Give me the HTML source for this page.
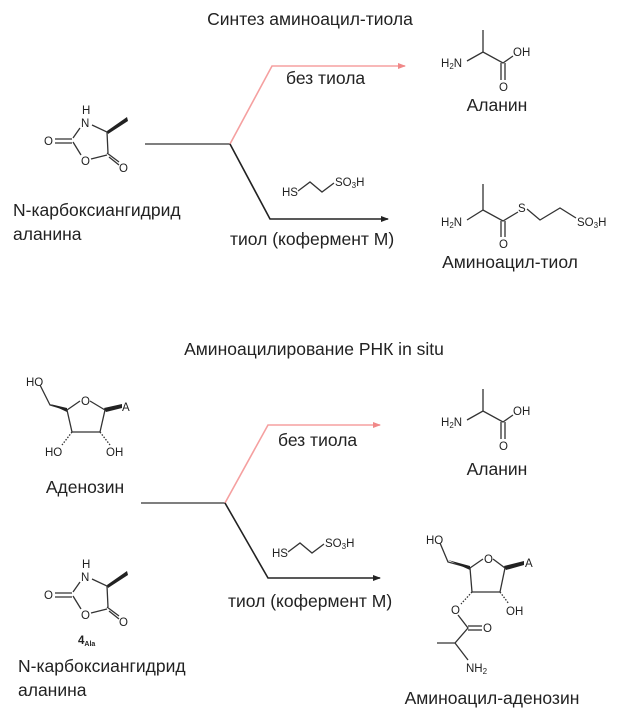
<!DOCTYPE html>
<html><head><meta charset="utf-8"><style>
html,body{margin:0;padding:0;background:#fff;}
svg{display:block;}
.a{font-family:"Liberation Sans",sans-serif;font-size:11.5px;fill:#222;}
.l{font-family:"Liberation Sans","DejaVu Sans",sans-serif;font-size:17.5px;fill:#222;}
.b{stroke:#333;stroke-width:1.3;fill:none;}
</style></head><body>
<svg width="620" height="722" viewBox="0 0 620 722" xmlns="http://www.w3.org/2000/svg">
<defs>
<g id="nca">
<text class="a" x="82" y="114">H</text>
<text class="a" x="81" y="127">N</text>
<polyline class="b" points="92,125 107,132 108,153"/>
<line class="b" x1="80" y1="128" x2="73" y2="138"/>
<line class="b" x1="73" y1="142" x2="81" y2="155"/>
<line class="b" x1="91" y1="159" x2="107" y2="155"/>
<text class="a" x="81" y="165">O</text>
<line class="b" x1="55" y1="139" x2="72" y2="139"/>
<line class="b" x1="55" y1="143" x2="72" y2="143"/>
<text class="a" x="44" y="145">O</text>
<line class="b" x1="107" y1="153" x2="119" y2="162"/>
<line class="b" x1="109" y1="157" x2="119" y2="165"/>
<text class="a" x="119" y="172">O</text>
<polygon points="107,131 127,117 128,121 108,134" fill="#222"/>
</g>
<g id="ala">
<text class="a" x="441" y="67">H<tspan font-size="8" dy="2">2</tspan><tspan dy="-2">N</tspan></text>
<polyline class="b" points="467,61 483,52 503,63 513,56"/>
<line class="b" x1="483" y1="52" x2="483" y2="30" stroke-width="2.5"/>
<text class="a" x="513" y="56">OH</text>
<line class="b" x1="501" y1="63" x2="501" y2="80"/>
<line class="b" x1="505" y1="63" x2="505" y2="80"/>
<text class="a" x="499" y="91">O</text>
</g>
<g id="thiol">
<text class="a" x="0" y="0">HS</text>
<polyline class="b" points="16,-5 28,-14 40,-4 52,-13"/>
<text class="a" x="53" y="-10">SO<tspan font-size="8" dy="2">3</tspan><tspan dy="-2">H</tspan></text>
</g>
<marker id="ar" markerWidth="8" markerHeight="8" refX="7" refY="3" orient="auto" markerUnits="userSpaceOnUse"><path d="M0,0 L8,3 L0,6z" fill="#222"/></marker>
<marker id="arp" markerWidth="8" markerHeight="8" refX="7" refY="3" orient="auto" markerUnits="userSpaceOnUse"><path d="M0,0 L8,3 L0,6z" fill="#f08888"/></marker>
</defs>

<text class="l" x="310" y="25" text-anchor="middle">Синтез аминоацил-тиола</text>
<use href="#nca"/>
<text class="l" x="13" y="216">N-карбоксиангидрид</text>
<text class="l" x="13" y="240">аланина</text>
<line class="b" x1="145" y1="144" x2="230" y2="144" stroke-width="1.6"/>
<polyline points="230,144 272,66 405,66" fill="none" stroke="#f5a0a0" stroke-width="1.6" marker-end="url(#arp)"/>
<polyline points="230,144 270,219 388,219" fill="none" stroke="#222" stroke-width="1.6" marker-end="url(#ar)"/>
<text class="l" x="286" y="84">без тиола</text>
<use href="#thiol" x="282" y="196"/>
<text class="l" x="230" y="245">тиол (кофермент М)</text>
<use href="#ala"/>
<text class="l" x="497" y="111" text-anchor="middle">Аланин</text>

<text class="a" x="441" y="226">H<tspan font-size="8" dy="2">2</tspan><tspan dy="-2">N</tspan></text>
<polyline class="b" points="467,220 483,210 503,221 518,212"/>
<line class="b" x1="483" y1="210" x2="483" y2="184" stroke-width="2.5"/>
<text class="a" x="518" y="212">S</text>
<polyline class="b" points="527,209 540,220 560,208 576,218"/>
<text class="a" x="577" y="226">SO<tspan font-size="8" dy="2">3</tspan><tspan dy="-2">H</tspan></text>
<line class="b" x1="501" y1="221" x2="501" y2="237"/>
<line class="b" x1="505" y1="221" x2="505" y2="237"/>
<text class="a" x="499" y="248">O</text>
<text class="l" x="510" y="268" text-anchor="middle">Аминоацил-тиол</text>

<text class="l" x="314" y="355" text-anchor="middle">Аминоацилирование РНК in situ</text>
<text class="a" x="26" y="386">HO</text>
<polyline class="b" points="40,385 50,405 67,410"/>
<polygon points="50,404 67,408 67,412" fill="#222"/>
<polyline class="b" points="67,410 80,401"/>
<text class="a" x="81" y="405">O</text>
<polyline class="b" points="90,401 105,410"/>
<polygon points="104,408 122,404 122,408 106,412" fill="#222"/>
<text class="a" x="122" y="411">A</text>
<polyline class="b" points="105,410 100,432 72,432 67,410"/>
<line class="b" x1="72" y1="432" x2="62" y2="445" stroke-dasharray="1.5,1.5"/>
<line class="b" x1="100" y1="432" x2="110" y2="445" stroke-dasharray="1.5,1.5"/>
<text class="a" x="45" y="456">HO</text>
<text class="a" x="106" y="456">OH</text>
<text class="l" x="85" y="493" text-anchor="middle">Аденозин</text>

<line class="b" x1="141" y1="503" x2="225" y2="503" stroke-width="1.6"/>
<polyline points="225,503 268,425 380,425" fill="none" stroke="#f5a0a0" stroke-width="1.6" marker-end="url(#arp)"/>
<polyline points="225,503 268,578 380,578" fill="none" stroke="#222" stroke-width="1.6" marker-end="url(#ar)"/>
<text class="l" x="278" y="446">без тиола</text>
<use href="#thiol" x="272" y="557"/>
<text class="l" x="228" y="607">тиол (кофермент М)</text>

<use href="#nca" y="454"/>
<text class="a" x="78" y="644" font-weight="bold">4<tspan font-size="7" dy="2">Ala</tspan></text>
<text class="l" x="18" y="672">N-карбоксиангидрид</text>
<text class="l" x="18" y="696">аланина</text>

<use href="#ala" y="359"/>
<text class="l" x="497" y="475" text-anchor="middle">Аланин</text>

<text class="a" x="426" y="544">HO</text>
<polyline class="b" points="440,543 448,562 470,568"/>
<polygon points="448,560 470,566 470,570" fill="#222"/>
<line class="b" x1="470" y1="568" x2="483" y2="559"/>
<text class="a" x="484" y="563">O</text>
<line class="b" x1="493" y1="559" x2="505" y2="568"/>
<polygon points="504,566 524,561 524,565 506,570" fill="#222"/>
<text class="a" x="525" y="567">A</text>
<polyline class="b" points="505,568 500,592 472,592 470,568"/>
<line class="b" x1="500" y1="592" x2="509" y2="604" stroke-dasharray="1.5,1.5"/>
<text class="a" x="506" y="615">OH</text>
<line class="b" x1="472" y1="592" x2="461" y2="604" stroke-dasharray="1.5,1.5"/>
<text class="a" x="451" y="614">O</text>
<polyline class="b" points="458,615 468,628 455,643 437,643"/>
<line class="b" x1="468" y1="626" x2="482" y2="626"/>
<line class="b" x1="468" y1="630" x2="482" y2="630"/>
<text class="a" x="483" y="632">O</text>
<line class="b" x1="455" y1="643" x2="468" y2="660"/>
<text class="a" x="466" y="672">NH<tspan font-size="8" dy="2">2</tspan></text>
<text class="l" x="492" y="704" text-anchor="middle">Аминоацил-аденозин</text>
</svg>
</body></html>
